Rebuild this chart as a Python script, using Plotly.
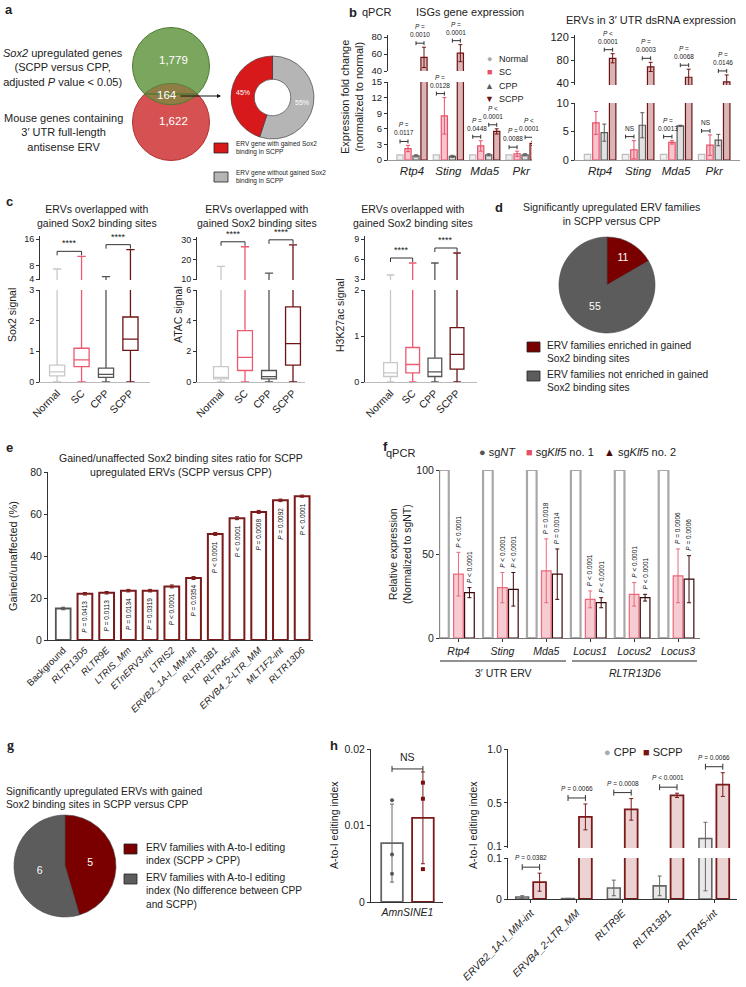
import numpy as np
import plotly.graph_objects as go

W, H = 746, 987
FONT = "Arial, Liberation Sans, DejaVu Sans, sans-serif"

# ===================== DATA =====================
# (a) Venn + donut
venn_left_label = "<i>Sox2</i> upregulated genes<br>(SCPP versus CPP,<br>adjusted <i>P</i> value < 0.05)"
venn_bottom_label = "Mouse genes containing<br>3′ UTR full-length<br>antisense ERV"
venn_counts = ["1,779", "164", "1,622"]
donut_labels = ["ERV gene with gained Sox2<br>binding in SCPP", "ERV gene without gained Sox2<br>binding in SCPP"]
donut_values = [45, 55]

# (b) qPCR
b_genes = ["Rtp4", "Sting", "Mda5", "Pkr"]
b_groups = ["Normal", "SC", "CPP", "SCPP"]
isg_normal = [1, 1, 1, 1]
isg_sc = [2.2, 8.5, 2.7, 1.2]
isg_cpp = [0.8, 0.7, 1.0, 1.0]
isg_scpp = [56, 61, 5.5, 3.2]
isg_sc_err = [0.6, 3.5, 1.0, 0.5]
isg_cpp_err = [0.2, 0.2, 0.2, 0.2]
isg_scpp_err = [12, 10, 0.5, 0.4]
isg_p_left = ["P =<br>0.0117", "P =<br>0.0128", "P =<br>0.0448", "P =<br>0.0088"]
isg_p_right = ["P =<br>0.0010", "P =<br>0.0001", "P <<br>0.0001", "P <<br>0.0001"]
erv_normal = [1, 1, 1, 1]
erv_sc = [6.5, 1.8, 3.1, 2.6]
erv_cpp = [4.8, 6.1, 6.0, 3.5]
erv_scpp = [83, 68, 50, 42]
erv_sc_err = [2.0, 1.6, 0.3, 1.8]
erv_cpp_err = [1.5, 2.2, 0.1, 1.0]
erv_scpp_err = [8, 8, 14, 12]
erv_p_left = ["P =<br>0.0142", "NS", "P =<br>0.0013", "NS"]
erv_p_right = ["P <<br>0.0001", "P =<br>0.0003", "P =<br>0.0068", "P =<br>0.0146"]

# (c) box-plot summary statistics
c_groups = ["Normal", "SC", "CPP", "SCPP"]
sox2_q1 = [0.20, 0.50, 0.15, 1.03]
sox2_med = [0.33, 0.72, 0.25, 1.40]
sox2_q3 = [0.55, 1.10, 0.45, 2.12]
sox2_min = [0, 0, 0, 0]
sox2_max = [7.0, 10.8, 4.7, 12.8]
atac_q1 = [0.20, 0.75, 0.20, 1.10]
atac_med = [0.30, 1.60, 0.35, 2.50]
atac_q3 = [1.00, 3.35, 0.75, 4.90]
atac_min = [0, 0, 0, 0]
atac_max = [16.5, 26.5, 13.0, 27.5]
h3_q1 = [0.12, 0.20, 0.12, 0.28]
h3_med = [0.20, 0.38, 0.22, 0.60]
h3_q3 = [0.42, 0.75, 0.52, 1.18]
h3_min = [0, 0, 0, 0]
h3_max = [3.6, 5.4, 5.4, 6.9]

# (d)
d_labels = ["ERV families enriched in gained<br>Sox2 binding sites",
            "ERV families not enriched in gained<br>Sox2 binding sites"]
d_values = [11, 55]

# (e)
e_families = ["Background", "RLTR13D5", "RLTR9E", "LTRIS_Mm", "ETnERV3-int", "LTRIS2",
              "ERVB2_1A-I_MM-int", "RLTR13B1", "RLTR45-int", "ERVB4_2-LTR_MM", "MLT1F2-int", "RLTR13D6"]
e_ratio = [15, 22, 22.5, 23.5, 23.5, 25.5, 29.5, 50.5, 58, 61, 66.5, 68.5]
e_err = [0.6, 0.6, 0.6, 0.6, 0.6, 0.7, 0.7, 0.7, 0.7, 0.7, 0.6, 0.5]
e_p = ["", "P = 0.0413", "P = 0.0113", "P = 0.0134", "P = 0.0319", "P < 0.0001", "P = 0.0354",
       "P < 0.0001", "P < 0.0001", "P = 0.0008", "P = 0.0092", "P < 0.0001"]

# (f)
f_targets = ["Rtp4", "Sting", "Mda5", "Locus1", "Locus2", "Locus3"]
f_sgnt = [100, 100, 100, 100, 100, 100]
f_klf5_1 = [38, 30, 40, 23, 26, 37]
f_klf5_1_err = [13, 9, 19, 5, 7, 16]
f_klf5_2 = [27, 29, 38, 21, 24, 35]
f_klf5_2_err = [3, 10, 15, 3, 2, 14]
f_p1 = ["P < 0.0001", "P < 0.0001", "P = 0.0018", "P < 0.0001", "P < 0.0001", "P = 0.0006"]
f_p2 = ["P < 0.0001", "P < 0.0001", "P = 0.0014", "P < 0.0001", "P < 0.0001", "P = 0.0006"]

# (g)
g_labels = ["ERV families with A-to-I editing<br>index (SCPP > CPP)",
            "ERV families with A-to-I editing<br>index (No difference between CPP<br>and SCPP)"]
g_values = [5, 6]

# (h)
amn_groups = ["CPP", "SCPP"]
amn_mean = [0.0077, 0.011]
amn_err = [0.0051, 0.006]
amn_pts_cpp = [0.0133, 0.0062, 0.0037]
amn_pts_scpp = [0.0156, 0.0135, 0.0043]
h_families = ["ERVB2_1A-I_MM-int", "ERVB4_2-LTR_MM", "RLTR9E", "RLTR13B1", "RLTR45-int"]
h_cpp = [0.005, 0.001, 0.027, 0.032, 0.17]
h_cpp_err = [0.003, 0.0005, 0.019, 0.024, 0.15]
h_scpp = [0.041, 0.37, 0.44, 0.57, 0.67]
h_scpp_err = [0.022, 0.12, 0.10, 0.02, 0.11]
h_p = ["P = 0.0382", "P = 0.0066", "P = 0.0008", "P < 0.0001", "P = 0.0066"]

# ===================== STYLE =====================
C_NORMAL, F_NORMAL = "#bdbdbd", "rgba(210,210,210,0.35)"
C_SC, F_SC = "#e8506a", "rgba(240,150,165,0.55)"
C_CPP, F_CPP = "#5a5a5a", "rgba(170,170,170,0.35)"
C_SCPP, F_SCPP = "#6e1414", "rgba(190,120,120,0.55)"

fig = go.Figure()
annotations, shapes = [], []
yppu = {}
layout = dict(width=W, height=H, margin=dict(l=0, r=0, t=0, b=0, autoexpand=False), paper_bgcolor="white",
              plot_bgcolor="rgba(0,0,0,0)", showlegend=False, barmode="overlay", template="none",
              font=dict(family=FONT, size=10, color="#222"))


def xname(i):
    return "x" if i == 1 else f"x{i}"


def yname(i):
    return "y" if i == 1 else f"y{i}"


def base_axis():
    return dict(showline=True, linecolor="#333", linewidth=1, ticks="outside", ticklen=3,
                tickwidth=1, tickcolor="#333", showgrid=False, zeroline=False, automargin=False,
                tickfont=dict(size=10, family=FONT, color="#222"), fixedrange=True)


def set_x(i, left, right, rng, anchor_y, **kw):
    d = base_axis()
    d.update(domain=[left / W, right / W], range=rng, anchor=yname(anchor_y))
    d.update(kw)
    layout["xaxis" if i == 1 else f"xaxis{i}"] = d


def set_y(i, bottom, top, rng, anchor_x, **kw):
    d = base_axis()
    d.update(domain=[1 - bottom / H, 1 - top / H], range=rng, anchor=xname(anchor_x))
    d.update(kw)
    layout["yaxis" if i == 1 else f"yaxis{i}"] = d
    yppu[i] = (bottom - top) / (rng[1] - rng[0])


def ann(x, y, text, size=10, xanchor="center", yanchor="middle", angle=0, color="#222",
        align="center", bold=False, family=FONT):
    if bold:
        text = f"<b>{text}</b>"
    annotations.append(dict(x=x / W, y=1 - y / H, xref="paper", yref="paper", text=text,
                            showarrow=False, xanchor=xanchor, yanchor=yanchor, textangle=angle,
                            align=align, font=dict(size=size, color=color, family=family)))


def ital_p(t):
    return t.replace("P", "<i>P</i>")


def bracket(xi, yi, xa, xb, top, text, pad_px=5, size=7, tick=2.5, down_only=False):
    y = top + pad_px / yppu[yi]
    xr, yr = xname(xi), yname(yi)
    shapes.append(dict(type="line", xref=xr, yref=yr, x0=xa, x1=xb, y0=y, y1=y,
                       line=dict(color="#333", width=1)))
    for xx in (xa, xb):
        shapes.append(dict(type="line", xref=xr, yref=yr, x0=xx, x1=xx, ysizemode="pixel",
                           yanchor=y, y0=-tick if not down_only else -4, y1=0 if down_only else tick,
                           line=dict(color="#333", width=1)))
    annotations.append(dict(x=(xa + xb) / 2, y=y, xref=xr, yref=yr, text=ital_p(text),
                            showarrow=False, yanchor="bottom", xanchor="center",
                            yshift=(1 if down_only else tick + 1),
                            font=dict(size=size, family=FONT, color="#222")))


def bars(xi, yis, x, y, err, line_color, fill, width, lw=1.2):
    for yi in yis:
        kw = {}
        if err is not None:
            kw["error_y"] = dict(type="data", array=err, color=line_color, thickness=1, width=2)
        fig.add_trace(go.Bar(x=x, y=y, width=width, xaxis=xname(xi), yaxis=yname(yi),
                             marker=dict(color=fill, line=dict(color=line_color, width=lw)),
                             hoverinfo="skip", **kw))


def legend_box(x0, y0, x1, y1, color):
    shapes.append(dict(type="rect", xref="paper", yref="paper", x0=x0 / W, x1=x1 / W,
                       y0=1 - y1 / H, y1=1 - y0 / H, fillcolor=color, line=dict(color="#222", width=0.8)))


# ===================== PANEL LETTERS =====================
for L, x, y in [("a", 9, 10), ("b", 353, 12), ("c", 9, 201), ("d", 499, 207), ("e", 9, 447),
                ("f", 385, 446), ("h", 334, 745)]:
    ann(x, y, L, size=13, bold=True)
ann(10, 745, "g", size=14, bold=True, family="Liberation Serif, DejaVu Serif, serif")

# ===================== (a) =====================
gc, rc, r = (171, 66), (171, 122), 38.5
shapes.append(dict(type="circle", xref="paper", yref="paper", x0=(rc[0] - r) / W, x1=(rc[0] + r) / W,
                   y0=1 - (rc[1] + r) / H, y1=1 - (rc[1] - r) / H, fillcolor="#d65252",
                   line=dict(color="#b03030", width=1)))
shapes.append(dict(type="circle", xref="paper", yref="paper", x0=(gc[0] - r) / W, x1=(gc[0] + r) / W,
                   y0=1 - (gc[1] + r) / H, y1=1 - (gc[1] - r) / H, fillcolor="#7ba65e",
                   line=dict(color="#4d7a32", width=1)))
dd = rc[1] - gc[1]
half = np.arccos((dd / 2) / r)
tg = np.linspace(np.pi / 2 - half, np.pi / 2 + half, 40)
tr = np.linspace(-np.pi / 2 + half, -np.pi / 2 - half, 40)
pts = [(gc[0] + r * np.cos(t), gc[1] + r * np.sin(t)) for t in tg] + \
      [(rc[0] + r * np.cos(t), rc[1] + r * np.sin(t)) for t in tr]
path = "M " + " L ".join(f"{px / W:.5f},{1 - py / H:.5f}" for px, py in pts) + " Z"
shapes.append(dict(type="path", xref="paper", yref="paper", path=path, fillcolor="#8f7d45",
                   line=dict(color="#4d7a32", width=0.8)))
ann(173, 60, venn_counts[0], size=11.5, color="white")
ann(167, 95, venn_counts[1], size=11.5, color="white")
ann(173, 121, venn_counts[2], size=11.5, color="white")
ann(63, 68, venn_left_label, size=11)
ann(63, 132, venn_bottom_label, size=11)
annotations.append(dict(x=221 / W, y=1 - 96 / H, xref="paper", yref="paper", ax=-42, ay=0,
                        showarrow=True, arrowhead=2, arrowsize=0.8, arrowwidth=1, arrowcolor="#111", text=""))
fig.add_trace(go.Pie(values=donut_values[::-1], labels=donut_labels[::-1], hole=0.44, sort=False,
                     direction="clockwise", rotation=0,
                     domain=dict(x=[231 / W, 314 / W], y=[1 - 139 / H, 1 - 56 / H]),
                     marker=dict(colors=["#b5b5b5", "#d7191c"], line=dict(color="#333", width=0.6)),
                     textinfo="percent", textfont=dict(size=7, color="white", family=FONT),
                     insidetextorientation="horizontal", showlegend=False, hoverinfo="skip"))
legend_box(214, 143, 228, 153, "#d7191c")
legend_box(214, 172, 228, 182, "#b5b5b5")
ann(234, 148, donut_labels[0], size=6.5, xanchor="left", align="left")
ann(234, 177, donut_labels[1], size=6.5, xanchor="left", align="left")

# ===================== (b) =====================
boff = [-0.33, -0.11, 0.11, 0.33]
bw = 0.17
gi = np.arange(len(b_genes))
set_x(1, 388, 532, [-0.66, 3.3], 1, tickvals=list(gi), ticktext=[f"<i>{g}</i>" for g in b_genes],
      tickfont=dict(size=11.5, family=FONT), ticks="", linecolor="#999")
set_y(1, 160, 82, [0, 15], 1, tickvals=[0, 3, 6, 9, 12, 15], tickfont=dict(size=9.5))
set_y(2, 71, 35, [40, 82.35], 1, tickvals=[40, 60, 80], tickfont=dict(size=9.5))
set_x(2, 575, 740, [-0.66, 3.68], 3, tickvals=list(gi), ticktext=[f"<i>{g}</i>" for g in b_genes],
      tickfont=dict(size=11.5, family=FONT), ticks="", linecolor="#999")
set_y(3, 160, 103, [0, 10], 2, tickvals=[0, 5, 10], tickfont=dict(size=11))
set_y(4, 85, 35, [36.5, 123.5], 2, tickvals=[40, 80, 120], tickfont=dict(size=11))

series_isg = [(isg_normal, None, C_NORMAL, F_NORMAL), (isg_sc, isg_sc_err, C_SC, F_SC),
              (isg_cpp, isg_cpp_err, C_CPP, F_CPP), (isg_scpp, isg_scpp_err, C_SCPP, F_SCPP)]
series_erv = [(erv_normal, None, C_NORMAL, F_NORMAL), (erv_sc, erv_sc_err, C_SC, F_SC),
              (erv_cpp, erv_cpp_err, C_CPP, F_CPP), (erv_scpp, erv_scpp_err, C_SCPP, F_SCPP)]
for j, (vals, err, lc, fc) in enumerate(series_isg):
    bars(1, [1, 2], gi + boff[j], vals, err, lc, fc, bw)
for j, (vals, err, lc, fc) in enumerate(series_erv):
    bars(2, [3, 4], gi + boff[j], vals, err, lc, fc, bw)


def b_brackets(xi, ylo, yhi, lo_max, series, p_left, p_right):
    for k in range(len(b_genes)):
        for (a, b_), txt in (((0, 1), p_left[k]), ((2, 3), p_right[k])):
            tops = []
            for s in (a, b_):
                v, e = series[s][0][k], series[s][1]
                tops.append(v + (e[k] if e is not None else 0))
            top = max(tops)
            yi = ylo if top < lo_max * 0.85 else yhi
            bracket(xi, yi, k + boff[a], k + boff[b_], top, txt, pad_px=4, size=6.5, tick=2)


b_brackets(1, 1, 2, 15, series_isg, isg_p_left, isg_p_right)
b_brackets(2, 3, 4, 10, series_erv, erv_p_left, erv_p_right)

ann(376, 12, "qPCR", size=11)
ann(470, 12, "ISGs gene expression", size=11)
ann(651, 20, "ERVs in 3′ UTR dsRNA expression", size=11)
ann(352, 97, "Expression fold change<br>(normalized to normal)", size=11, angle=-90)
for k, (sym, col, lab) in enumerate([("●", "#aaaaaa", "Normal"), ("■", C_SC, "SC"),
                                     ("▲", C_CPP, "CPP"), ("▼", C_SCPP, "SCPP")]):
    ann(489, 59 + 13.3 * k, f"<span style='color:{col}'>{sym}</span>", size=9)
    ann(497, 59 + 13.3 * k, lab, size=9, xanchor="left")

# ===================== (c) =====================
c_colors = ["#c8c8c8", "#ec5a70", "#555555", "#6e1414"]
ci = np.arange(4)
c_cfg = [
    (3, 5, 6, (40, 150), [-0.7, 3.8], (382, 290), [0, 3], (280, 236), [3.7, 16.9],
     [0, 1, 2, 3], [4, 8, 16], (sox2_q1, sox2_med, sox2_q3, sox2_min, sox2_max), "Sox2 signal", 12, 97),
    (4, 7, 8, (197, 305), [-1.0, 3.5], (382, 290), [0, 6], (280, 237), [9.5, 31.5],
     [0, 2, 4, 6], [10, 20, 30], (atac_q1, atac_med, atac_q3, atac_min, atac_max), "ATAC signal", 178, 257),
    (5, 9, 10, (365, 477), [-1.15, 3.9], (382, 290), [0, 2], (280, 236), [2.85, 9.45],
     [0, 1, 2], [3, 6, 9], (h3_q1, h3_med, h3_q3, h3_min, h3_max), "H3K27ac signal", 340, 413),
]
for (xi, ylo, yhi, xd, xr, ld, lr, ud, ur, lt, ut, stats, ylab, ylx, tx) in c_cfg:
    set_x(xi, xd[0], xd[1], xr, ylo, tickvals=list(ci), ticktext=c_groups, tickangle=-45,
          ticks="", tickfont=dict(size=10.5, family=FONT), linecolor="#bbb")
    set_y(ylo, ld[0], ld[1], lr, xi, tickvals=lt, tickfont=dict(size=9))
    set_y(yhi, ud[0], ud[1], ur, xi, tickvals=ut, tickfont=dict(size=9))
    q1, med, q3, lo, hi = stats
    for k in range(4):
        for yi in (ylo, yhi):
            fig.add_trace(go.Box(x=[k], q1=[q1[k]], median=[med[k]], q3=[q3[k]],
                                 lowerfence=[lo[k]], upperfence=[hi[k]], width=0.62, whiskerwidth=0.55,
                                 line=dict(color=c_colors[k], width=1.3), fillcolor="rgba(0,0,0,0)",
                                 boxpoints=False, xaxis=xname(xi), yaxis=yname(yi), hoverinfo="skip"))
    bracket(xi, yhi, 0, 1, max(hi[0], hi[1]), "****", pad_px=5, size=9, down_only=True)
    bracket(xi, yhi, 2, 3, max(hi[2], hi[3]), "****", pad_px=5, size=9, down_only=True)
    ann(ylx, 315, ylab, size=10.5, angle=-90)
    ann(tx, 216, "ERVs overlapped with<br>gained Sox2 binding sites", size=10.5)

# ===================== (d) =====================
ann(611, 214, "Significantly upregulated ERV families<br>in SCPP versus CPP", size=10.5)
fig.add_trace(go.Pie(values=d_values, labels=d_labels, sort=False, direction="clockwise", rotation=0,
                     domain=dict(x=[559 / W, 655 / W], y=[1 - 333 / H, 1 - 237 / H]),
                     marker=dict(colors=["#7a0000", "#5c5c5c"], line=dict(color="#444", width=0.6)),
                     textinfo="value", textfont=dict(size=10.5, color="white", family=FONT),
                     insidetextorientation="horizontal", showlegend=False, hoverinfo="skip"))
legend_box(527, 342, 540, 352, "#7a0000")
legend_box(527, 371, 540, 381, "#5c5c5c")
ann(545, 352, d_labels[0], size=10.2, xanchor="left", align="left")
ann(545, 381, d_labels[1], size=10.2, xanchor="left", align="left")

# ===================== (e) =====================
ei = np.arange(len(e_families))
set_x(6, 48, 313, [-0.7, 11.5], 11, tickvals=list(ei),
      ticktext=[f if f == "Background" else f"<i>{f}</i>" for f in e_families],
      tickangle=-45, ticks="", tickfont=dict(size=9.5, family=FONT))
set_y(11, 640, 472, [0, 80], 6, tickvals=[0, 20, 40, 60, 80], tickfont=dict(size=10.5))
bars(6, [11], ei[:1], e_ratio[:1], e_err[:1], "#555555", "white", 0.68, lw=1.8)
bars(6, [11], ei[1:], e_ratio[1:], e_err[1:], "#7a1a1a", "white", 0.68, lw=2.0)
for k in range(1, len(e_families)):
    annotations.append(dict(x=k, y=e_ratio[k], xref="x6", yref="y11", text=ital_p(e_p[k]), showarrow=False,
                            textangle=-90, yanchor="top", yshift=-5, font=dict(size=6.5, family=FONT, color="#111")))
ann(181, 465, "Gained/unaffected Sox2 binding sites ratio for SCPP<br>upregulated ERVs (SCPP versus CPP)",
    size=10.5)
ann(13, 556, "Gained/unaffected (%)", size=11, angle=-90)

# ===================== (f) =====================
fi = np.arange(len(f_targets))
foff = [-0.33, 0.0, 0.25]
set_x(7, 440, 700, [-0.42, 5.5], 12, tickvals=list(fi), ticktext=[f"<i>{t}</i>" for t in f_targets],
      tickfont=dict(size=10.5, family=FONT), linecolor="#777")
set_y(12, 638, 470, [0, 100], 7, tickvals=[0, 50, 100], tickfont=dict(size=10.5), linecolor="#888")
bars(7, [12], fi + foff[0], f_sgnt, None, "#a8a8a8", "white", 0.22, lw=2.2)
bars(7, [12], fi + foff[1], f_klf5_1, f_klf5_1_err, "#e86a7c", "rgba(244,190,198,0.8)", 0.22, lw=1.2)
bars(7, [12], fi + foff[2], f_klf5_2, f_klf5_2_err, "#3a0a0a", "white", 0.22, lw=1.2)
for k in range(len(f_targets)):
    for off, v, e, t in ((foff[1], f_klf5_1[k], f_klf5_1_err[k], f_p1[k]),
                         (foff[2], f_klf5_2[k], f_klf5_2_err[k], f_p2[k])):
        annotations.append(dict(x=k + off, y=v + e, xref="x7", yref="y12", text=ital_p(t), showarrow=False,
                                textangle=-90, yanchor="bottom", yshift=3,
                                font=dict(size=6.5, family=FONT, color="#111")))
ann(400, 453, "qPCR", size=11)
ann(477, 452, "<span style='color:#555'>●</span> sg<i>NT</i>", size=11, xanchor="left")
ann(524, 452, "<span style='color:#e8506a'>■</span> sg<i>Klf5</i> no. 1", size=11, xanchor="left")
ann(602, 452, "<span style='color:#4a0808'>▲</span> sg<i>Klf5</i> no. 2", size=11, xanchor="left")
ann(400, 554, "Relative expression<br>(Normalized to sgNT)", size=10.5, angle=-90)
for x0, x1, lab in ((440, 566, "3′ UTR ERV"), (572, 697, "<i>RLTR13D6</i>")):
    shapes.append(dict(type="line", xref="paper", yref="paper", x0=x0 / W, x1=x1 / W,
                       y0=1 - 661 / H, y1=1 - 661 / H, line=dict(color="#222", width=1)))
    ann((x0 + x1) / 2, 673, lab, size=10.5)

# ===================== (g) =====================
ann(4, 798, "Significantly upregulated ERVs with gained<br>Sox2 binding sites in SCPP versus CPP",
    size=10.3, xanchor="left", align="left")
fig.add_trace(go.Pie(values=g_values, labels=g_labels, sort=False, direction="clockwise", rotation=0,
                     domain=dict(x=[14 / W, 116 / W], y=[1 - 917 / H, 1 - 815 / H]),
                     marker=dict(colors=["#7a0000", "#5c5c5c"], line=dict(color="#444", width=0.6)),
                     textinfo="value", textfont=dict(size=10.5, color="white", family=FONT),
                     insidetextorientation="horizontal", showlegend=False, hoverinfo="skip"))
legend_box(124, 844, 137, 854, "#7a0000")
legend_box(124, 874, 137, 884, "#5c5c5c")
ann(144, 854, g_labels[0], size=10.2, xanchor="left", align="left")
ann(144, 891, g_labels[1], size=10.2, xanchor="left", align="left")

# ===================== (h) =====================
set_x(8, 371, 443, [-0.68, 1.65], 13, tickvals=[0.5], ticktext=["<i>AmnSINE1</i>"], ticks="",
      tickfont=dict(size=10.5, family=FONT))
set_y(13, 902, 749, [0, 0.02], 8, tickvals=[0, 0.01, 0.02], ticktext=["0", "0.01", "0.02"],
      tickfont=dict(size=10.5))
bars(8, [13], [0], amn_mean[:1], amn_err[:1], "#666666", "white", 0.7, lw=1.8)
bars(8, [13], [1], amn_mean[1:], amn_err[1:], "#7a1a1a", "white", 0.7, lw=1.8)
fig.add_trace(go.Scatter(x=[0] * len(amn_pts_cpp), y=amn_pts_cpp, mode="markers", xaxis="x8", yaxis="y13",
                         marker=dict(color="#555", size=4), hoverinfo="skip"))
fig.add_trace(go.Scatter(x=[1] * len(amn_pts_scpp), y=amn_pts_scpp, mode="markers", xaxis="x8", yaxis="y13",
                         marker=dict(color="#7a1010", size=4, symbol="square"), hoverinfo="skip"))
bracket(8, 13, 0, 1, max(a + e for a, e in zip(amn_mean, amn_err)), "NS", pad_px=3, size=10.5, tick=3)
ann(334, 825, "A-to-I editing index", size=10.5, angle=-90)

hi_ = np.arange(len(h_families))
hoff = [-0.19, 0.19]
set_x(9, 508, 737, [-0.5, 4.5], 14, tickvals=list(hi_), ticktext=[f"<i>{f}</i>" for f in h_families],
      tickangle=-45, ticks="outside", tickfont=dict(size=10.3, family=FONT))
set_y(14, 899, 858, [0, 0.1], 9, tickvals=[0, 0.1], ticktext=["0", "0.1"], tickfont=dict(size=10.5))
set_y(15, 848, 749, [0.0815, 1.0], 9, tickvals=[0.1, 0.5, 1.0], ticktext=["0.1", "0.5", "1.0"],
      tickfont=dict(size=10.5))
bars(9, [14, 15], hi_ + hoff[0], h_cpp, h_cpp_err, "#666666", "rgba(200,200,200,0.4)", 0.28, lw=1.6)
bars(9, [14, 15], hi_ + hoff[1], h_scpp, h_scpp_err, "#7a1a1a", "rgba(200,130,130,0.35)", 0.28, lw=1.8)
for k in range(len(h_families)):
    top = max(h_cpp[k] + h_cpp_err[k], h_scpp[k] + h_scpp_err[k])
    yi = 14 if top < 0.085 else 15
    bracket(9, yi, k + hoff[0], k + hoff[1], top, h_p[k], pad_px=6, size=6.5, tick=3)
ann(602, 752, "<span style='color:#aaa'>●</span> CPP", size=11, xanchor="left")
ann(641, 752, "<span style='color:#7a1010'>■</span> SCPP", size=11, xanchor="left")
ann(473, 825, "A-to-I editing index", size=10.5, angle=-90)

layout["annotations"] = annotations
layout["shapes"] = shapes
fig.update_layout(**layout)
fig.write_html("out.html", config={"displayModeBar": False, "staticPlot": True},
               post_script="document.body.style.margin='0px';document.body.style.overflow='hidden';")
